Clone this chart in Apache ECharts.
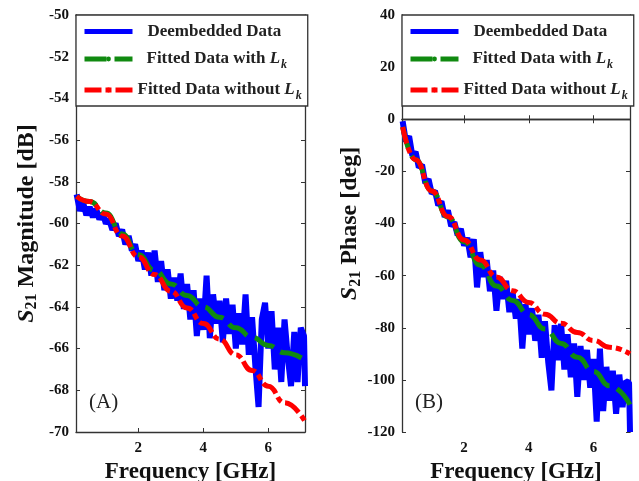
<!DOCTYPE html>
<html><head><meta charset="utf-8">
<script src="https://cdn.jsdelivr.net/npm/echarts@6/dist/echarts.min.js"></script>
<style>html,body{margin:0;padding:0;background:#fff}#c{width:639px;height:481px}</style>
</head><body><div id="c"></div>
<script>
// ---- data (frequency in GHz) ----
const freq = [0.1,0.2,0.3,0.4,0.5,0.6,0.7,0.8,0.9,1.0,1.1,1.2,1.3,1.4,1.5,1.6,1.7,1.8,1.9,2.0,
  2.1,2.2,2.3,2.4,2.5,2.6,2.7,2.8,2.9,3.0,3.1,3.2,3.3,3.4,3.5,3.6,3.7,3.8,3.9,4.0,
  4.1,4.2,4.3,4.4,4.5,4.6,4.7,4.8,4.9,5.0,5.1,5.2,5.3,5.4,5.5,5.6,5.7,5.8,5.9,6.0,
  6.1,6.2,6.3,6.4,6.5,6.6,6.7,6.8,6.9,7.0,7.1,7.13];
const magMeasured = [-58.6,-59.4,-59.0,-59.6,-59.2,-59.7,-59.3,-59.8,-59.5,-60.0,
  -59.8,-60.3,-60.0,-60.6,-60.3,-61.0,-60.6,-61.3,-61.0,-61.8,
  -61.3,-62.2,-61.4,-62.5,-61.3,-62.8,-61.8,-63.2,-62.2,-63.6,
  -62.6,-63.7,-62.4,-64.1,-62.9,-64.6,-63.2,-65.4,-63.6,-65.1,
  -62.5,-65.5,-63.4,-64.8,-63.7,-65.7,-63.6,-65.3,-63.9,-66.0,
  -64.3,-65.8,-63.4,-66.3,-64.5,-66.8,-68.8,-64.6,-63.8,-66.0,
  -64.2,-67.0,-65.0,-67.6,-64.6,-66.4,-67.8,-65.2,-67.6,-65.0,-65.4,-67.8];
const phaseMeasured = [-0.8,-8.5,-6.5,-14.0,-12.5,-18.5,-17.5,-24.5,-23.0,-28.5,
  -27.5,-33.0,-31.5,-37.5,-35.0,-41.0,-39.5,-44.5,-42.0,-48.5,
  -45.5,-53.0,-46.0,-64.5,-51.0,-60.5,-54.0,-66.0,-58.0,-73.5,
  -60.5,-69.0,-62.0,-74.0,-66.5,-76.5,-69.0,-88.0,-71.0,-82.5,
  -72.5,-85.0,-75.0,-91.5,-77.5,-93.0,-104.0,-79.0,-92.5,-78.5,
  -96.0,-82.5,-99.0,-86.0,-106.5,-87.0,-100.0,-88.5,-103.0,-92.0,
  -116.0,-88.0,-112.0,-95.0,-108.0,-96.5,-113.0,-98.0,-110.5,-100.5,-101.0,-120.0];
const fitFreq = [0.1,0.5,1.0,1.5,2.0,2.5,3.0,3.5,4.0,4.5,5.0,5.5,6.0,6.5,7.13];
const magFitLk   = [-58.7,-58.95,-59.5,-60.5,-61.5,-62.25,-62.9,-63.45,-64.0,-64.5,-65.0,-65.45,-65.85,-66.2,-66.55];
const magFitNoLk = [-58.7,-58.95,-59.55,-60.6,-61.6,-62.45,-63.25,-64.05,-64.8,-65.55,-66.3,-67.05,-67.8,-68.6,-69.5];
const phaseFitLk   = [-3,-15.5,-27.5,-37.5,-47,-56,-64,-69.5,-75,-80.5,-86,-91.3,-96.8,-102.3,-109.5];
const phaseFitNoLk = [-3,-15.5,-27.5,-37.3,-46.3,-54,-60.5,-65.8,-70.3,-74.8,-78.3,-81.8,-84.9,-87.5,-90];
const xTicks = [2,4,6];
const seriesNames = ['Deembedded Data','Fitted Data with Lk','Fitted Data without Lk'];

const pairs = (xs, ys) => xs.map((x, i) => [x, ys[i]]);
const SERIF = "'Liberation Serif','Times New Roman',serif";
const BLUE = '#0000ff', GREEN = '#108a10', RED = '#ff0000';
const AX = '#333';

function legendFmt(name) {
  if (name === seriesNames[0]) return '{a|Deembedded Data}';
  if (name === seriesNames[1]) return '{b|Fitted Data with }{it|L}{sub|k}';
  return '{c|Fitted Data without }{it|L}{sub|k}';
}
const legendRich = {
  a: {fontFamily: SERIF, fontWeight: 'bold', fontSize: 17, padding: [0,0,0,10], color: '#222'},
  b: {fontFamily: SERIF, fontWeight: 'bold', fontSize: 17, padding: [0,0,0,9], color: '#222'},
  c: {fontFamily: SERIF, fontWeight: 'bold', fontSize: 17, padding: [0,0,0,0], color: '#222'},
  it: {fontFamily: SERIF, fontWeight: 'bold', fontStyle: 'italic', fontSize: 17, color: '#222'},
  sub: {fontFamily: SERIF, fontWeight: 'bold', fontStyle: 'italic', fontSize: 12, padding: [12,0,0,1], color: '#222'}
};
function makeLegend(left) {
  return {
    orient: 'vertical', left: left, top: 15,
    padding: [8, 6, 4, 6], itemGap: 10.5,
    itemWidth: 48, itemHeight: 6,
    borderColor: AX, borderWidth: 1.3, backgroundColor: '#fff',
    lineStyle: {width: 5},
    data: seriesNames,
    formatter: legendFmt,
    textStyle: {fontFamily: SERIF, fontWeight: 'bold', fontSize: 17, color: '#222', rich: legendRich}
  };
}
const nameRich = {
  s: {fontFamily: SERIF, fontWeight: 'bold', fontStyle: 'italic', fontSize: 24, color: '#111'},
  sub: {fontFamily: SERIF, fontWeight: 'bold', fontSize: 16, padding: [11,0,0,0], color: '#111'},
  n: {fontFamily: SERIF, fontWeight: 'bold', fontSize: 24, color: '#111'}
};
function xAxisMain(gi) {
  return {
    type: 'value', gridIndex: gi, min: 0.08, max: 7.13,
    name: 'Frequency [GHz]', nameLocation: 'middle', nameGap: 27,
    nameTextStyle: {fontFamily: SERIF, fontWeight: 'bold', fontSize: 23, color: '#111'},
    axisLine: {show: true, lineStyle: {color: AX, width: 1.3}},
    axisTick: {show: true, inside: true, length: 4, customValues: xTicks, lineStyle: {color: AX}},
    axisLabel: {customValues: xTicks, margin: 9, fontFamily: SERIF, fontWeight: 'bold', fontSize: 15, color: '#111'},
    splitLine: {show: false}
  };
}
function xAxisTop(gi) {
  return {
    type: 'value', gridIndex: gi, position: 'top', min: 0.08, max: 7.13,
    axisLine: {show: true, lineStyle: {color: AX, width: 1.3}},
    axisTick: {show: true, inside: true, length: 4, customValues: xTicks, lineStyle: {color: AX}},
    axisLabel: {show: false}, splitLine: {show: false}
  };
}
function yAxisMain(gi, min, max, interval, nameStr, gap) {
  return {
    type: 'value', gridIndex: gi, min: min, max: max, interval: interval,
    name: nameStr, nameLocation: 'middle', nameGap: gap,
    nameTextStyle: {rich: nameRich},
    axisLine: {show: true, lineStyle: {color: AX, width: 1.3}},
    axisTick: {show: true, inside: true, length: 4, lineStyle: {color: AX}},
    axisLabel: {margin: 7, fontFamily: SERIF, fontWeight: 'bold', fontSize: 15, color: '#111'},
    splitLine: {show: false}
  };
}
function yAxisRight(gi, min, max, interval) {
  return {
    type: 'value', gridIndex: gi, position: 'right', min: min, max: max, interval: interval,
    axisLine: {show: true, lineStyle: {color: AX, width: 1.3}},
    axisTick: {show: true, inside: true, length: 4, lineStyle: {color: AX}},
    axisLabel: {show: false}, splitLine: {show: false}
  };
}
function line(name, xi, yi, data, color, dash, smooth, w) {
  return {
    type: 'line', name: name, xAxisIndex: xi, yAxisIndex: yi, data: data,
    symbol: 'none', smooth: smooth, smoothMonotone: 'x', clip: true,
    lineStyle: {color: color, width: w, type: dash},
    itemStyle: {color: color}
  };
}

const chart = echarts.init(document.getElementById('c'), null, {renderer: 'canvas'});
chart.setOption({
  animation: false,
  backgroundColor: '#fff',
  grid: [
    {left: 76, top: 15, width: 229, height: 417, containLabel: false, outerBoundsMode: 'none'},
    {left: 402, top: 15, width: 228, height: 417, containLabel: false, outerBoundsMode: 'none'}
  ],
  xAxis: [xAxisMain(0), xAxisTop(0), xAxisMain(1), xAxisTop(1)],
  yAxis: [
    yAxisMain(0, -70, -50, 2, '{s|S}{sub|21}{n| Magnitude [dB]}', 36),
    yAxisRight(0, -70, -50, 2),
    yAxisMain(1, -120, 40, 20, '{s|S}{sub|21}{n| Phase [deg]}', 34),
    yAxisRight(1, -120, 40, 20)
  ],
  legend: [makeLegend(76), makeLegend(402)],
  series: [
    line(seriesNames[0], 0, 0, pairs(freq, magMeasured), BLUE, 'solid', false, 6),
    line(seriesNames[1], 0, 0, pairs(fitFreq, magFitLk), GREEN, [22, 8], true, 5),
    line(seriesNames[2], 0, 0, pairs(fitFreq, magFitNoLk), RED, [17, 4, 6, 4], true, 5),
    line(seriesNames[0], 2, 2, pairs(freq, phaseMeasured), BLUE, 'solid', false, 6),
    line(seriesNames[1], 2, 2, pairs(fitFreq, phaseFitLk), GREEN, [22, 8], true, 5),
    line(seriesNames[2], 2, 2, pairs(fitFreq, phaseFitNoLk), RED, [17, 4, 6, 4], true, 5)
  ],
  graphic: [
    {type: 'text', left: 89, top: 392, style: {text: '(A)', font: "21px 'Liberation Serif', serif", fill: '#222'}},
    {type: 'text', left: 415, top: 392, style: {text: '(B)', font: "21px 'Liberation Serif', serif", fill: '#222'}}
  ]
});
</script></body></html>
